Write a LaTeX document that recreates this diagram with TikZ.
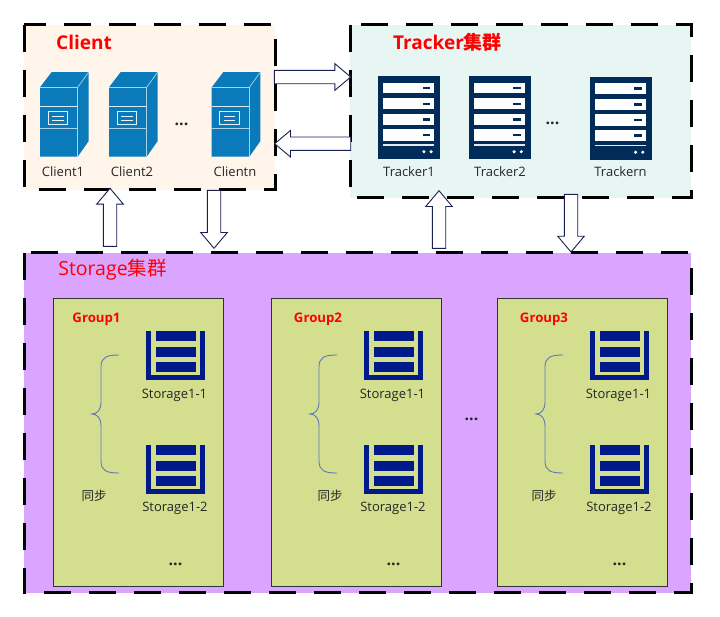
\documentclass[tikz,border=0pt]{standalone}
\usepackage{fontspec}
\setmainfont{Open Sans}
\newfontfamily\cjk{Noto Sans CJK SC}
\usetikzlibrary{calc}
\definecolor{clientfill}{HTML}{FFF5EA}
\definecolor{trackerfill}{HTML}{E8F6F3}
\definecolor{storagefill}{HTML}{D9A5FF}
\definecolor{groupfill}{HTML}{D3DF8E}
\definecolor{serverblue}{HTML}{0A7ABA}
\definecolor{serveredge}{HTML}{A9D3E8}
\definecolor{rackblue}{HTML}{012C5A}
\definecolor{stackblue}{HTML}{001A8C}
\definecolor{bracecol}{HTML}{5F78B8}
\definecolor{arrowline}{HTML}{1A2050}
\tikzset{
  x=1pt,y=-1pt,
  area/.style={anchor=north west,inner sep=0pt,outer sep=0pt,minimum width=#1},
  dashframe/.style={draw=black,line width=3pt,dash pattern=on 27pt off 18pt},
  grouppanel/.style={anchor=north west,draw=black!80,line width=0.8pt,fill=groupfill,
    inner sep=0pt,outer sep=0pt,minimum width=170.4pt,minimum height=287.7pt},
  blockarrow/.style={draw=arrowline,line width=0.9pt,fill=white,line join=miter},
  label/.style={font=\fontsize{13}{15}\selectfont,text=black!85,inner sep=0pt},
  dotsmark/.style={font=\fontsize{16}{16}\selectfont\bfseries,text=black!85,inner sep=0pt},
  bigtitle/.style={font=\fontsize{19}{22}\selectfont\bfseries,text=red,inner sep=0pt},
  grouptitle/.style={font=\fontsize{13.2}{15}\selectfont\bfseries,text=red,inner sep=0pt},
  bracepath/.style={draw=bracecol,line width=0.9pt},
  serverunit/.pic={
    \fill[serverblue] (0,0) -- (11.7,-15.3) -- (48.7,-15.3) -- (48.7,53.7) -- (37.7,69.4) -- (0,69.4) -- cycle;
    \draw[serveredge,line width=0.7pt] (0,0) -- (37.7,0) -- (37.7,69.4);
    \draw[serveredge,line width=0.7pt] (37.7,0) -- (48.7,-15.3);
    \draw[white!85!serverblue,line width=0.8pt] (0,18.7) -- (37.7,18.7);
    \draw[serveredge,line width=0.8pt] (0,41) -- (37.7,41);
    \draw[white!90!serverblue,line width=0.8pt] (8,24) rectangle (27.7,37.4);
    \draw[white!90!serverblue,line width=0.6pt] (12,28.5) -- (23.5,28.5) (12,33) -- (23.5,33);
  },
  rackunit/.pic={
    \fill[rackblue] (0,0) rectangle (62,83);
    \foreach \ya/\yb in {6.4/17,22/33,37.4/48.7,53/64.4}{
      \fill[white] (5,\ya) rectangle (56,\yb);
      \fill[rackblue] (44.4,{(\ya+\yb)/2-1.2}) rectangle (52,{(\ya+\yb)/2+1.2});
    }
    \fill[white!90!rackblue] (5,68) rectangle (56,69.6);
    \fill[white] (45.6,75.4) circle (1.7) (52.8,75.4) circle (1.7);
  },
  stackunit/.pic={
    \fill[stackblue] (0,0) rectangle (4.7,48.4);
    \fill[stackblue] (53.7,0) rectangle (58.4,48.4);
    \fill[stackblue] (0,43.4) rectangle (58.4,48.4);
    \foreach \ya in {0,15.4,30.4}{
      \fill[stackblue] (9.4,\ya) rectangle (49.4,\ya+10);
    }
  },
}
% Block arrow whose shaft and head are built along the line between two coordinates
\newcommand{\blockarrowbetween}[2]{%
  \coordinate (headbase) at ($(#2)!15.8pt!(#1)$);
  \draw[blockarrow]
    ($(#1)!6.7pt!90:(#2)$) -- ($(headbase)!6.7pt!-90:(#1)$) -- ($(headbase)!13.3pt!-90:(#1)$)
    -- (#2) -- ($(headbase)!13.3pt!90:(#1)$) -- ($(headbase)!6.7pt!90:(#1)$)
    -- ($(#1)!6.7pt!-90:(#2)$) -- cycle;
}
\begin{document}
\begin{tikzpicture}
\useasboundingbox (0,0) rectangle (720,616);
\fill[white] (0,0) rectangle (720,616);

% The three areas
\node[area=251pt,minimum height=165pt,fill=clientfill] (clientarea) at (24,24.5) {};
\node[area=341pt,minimum height=173pt,fill=trackerfill] (trackerarea) at (350,24.5) {};
\node[area=667pt,minimum height=340pt,fill=storagefill] (storagearea) at (24,252.5) {};
\draw[dashframe] (clientarea.north west) rectangle (clientarea.south east);
\draw[dashframe] (trackerarea.north west) rectangle (trackerarea.south east);
\draw[dashframe] (storagearea.north west) rectangle (storagearea.south east);

\node[bigtitle] (clienttitle) at (84,42) {Client};
\node[bigtitle] (trackertitle) at (447.5,42) {Tracker{\cjk 集群}};
\node[bigtitle,font=\fontsize{19.5}{22}\selectfont] (storagetitle) at (112.5,270) {Storage{\cjk 集群}};

% Client machines
\pic at (40,87.3) {serverunit};
\pic at (109,87.3) {serverunit};
\pic at (211.7,87.3) {serverunit};
\node[label] (client1) at (63,171.5) {Client1};
\node[label] (client2) at (132,171.5) {Client2};
\node[label] (clientn) at (235,171.5) {Clientn};
\node[dotsmark] (clientdots) at (181.5,124.5) {...};

% Tracker machines
\pic at (378.3,76.3) {rackunit};
\pic at (468.5,76.3) {rackunit};
\pic at (590,76.8) {rackunit};
\node[label] (tracker1) at (409,171.5) {Tracker1};
\node[label] (tracker2) at (500,171.5) {Tracker2};
\node[label] (trackern) at (620.5,171.5) {Trackern};
\node[dotsmark] (trackerdots) at (552.5,123.5) {...};

% Storage groups: number, panel offset, title centre, sync label centre
\foreach \name/\dx/\titlex/\syncx in {1/0/96.5/94,2/218/318/330,3/444/544/544}{
  \node[grouppanel] (group\name) at (53.3+\dx,298.3) {};
  \node[grouptitle] (grouptitle\name) at (\titlex,319.5) {Group\name};
  \pic at (146.3+\dx,331.3) {stackunit};
  \pic at (146.3+\dx,445.3) {stackunit};
  \node[label] (storageA\name) at (174.5+\dx,395) {Storage1-1};
  \node[label] (storageB\name) at (175+\dx,508) {Storage1-2};
  \node[label,font=\fontsize{12.5}{14}\selectfont\cjk] (sync\name) at (\syncx,495.5) {同步};
  \node[dotsmark] (groupdots\name) at (175.5+\dx,564.5) {...};
  \draw[bracepath] (119+\dx,355) .. controls (107+\dx,355) and (101+\dx,357) .. (101+\dx,367)
    -- (101+\dx,402) .. controls (101+\dx,410) and (97+\dx,414) .. (92+\dx,414)
    .. controls (97+\dx,414) and (101+\dx,418) .. (101+\dx,426)
    -- (101+\dx,461) .. controls (101+\dx,471) and (107+\dx,473) .. (119+\dx,473);
}
\node[dotsmark] (groupsdots) at (471.5,419.5) {...};

% Requests and replies between the areas
\coordinate (ctA) at (274.3,77);
\coordinate (ctB) at (350.7,77);
\coordinate (tcA) at (350.7,143.7);
\coordinate (tcB) at (274.7,143.7);
\coordinate (scA) at (110,246.3);
\coordinate (scB) at (110,188.3);
\coordinate (csA) at (214,190.3);
\coordinate (csB) at (214,248.3);
\coordinate (stA) at (439,248.3);
\coordinate (stB) at (439,190.7);
\coordinate (tsA) at (571,194.3);
\coordinate (tsB) at (571,252);
\blockarrowbetween{ctA}{ctB}
\blockarrowbetween{tcA}{tcB}
\blockarrowbetween{scA}{scB}
\blockarrowbetween{csA}{csB}
\blockarrowbetween{stA}{stB}
\blockarrowbetween{tsA}{tsB}
\end{tikzpicture}
\end{document}
